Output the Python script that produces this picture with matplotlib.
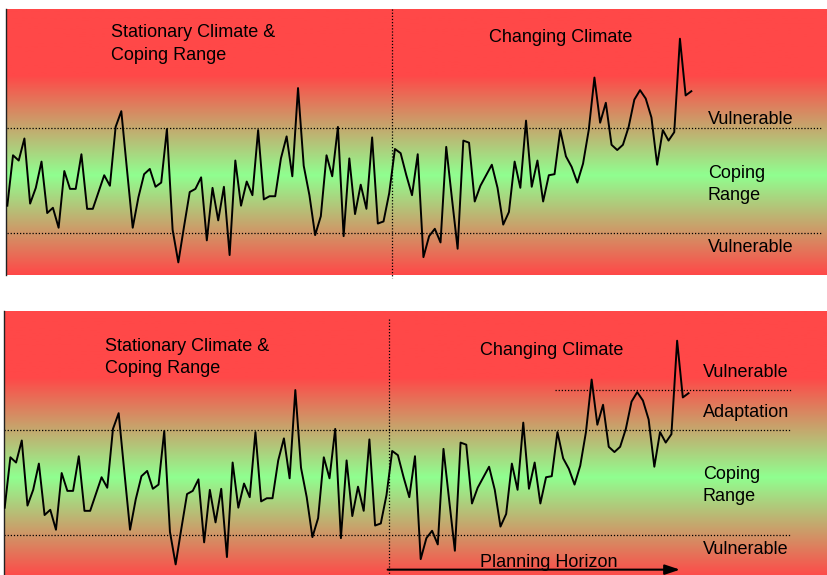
import numpy as np
import matplotlib
matplotlib.use("Agg")
import matplotlib.pyplot as plt

plt.rcParams["font.family"] = ["Liberation Sans", "DejaVu Sans"]

# climate variable (coping range 10..20)
values = [
    12.6, 17.4, 16.9, 19.0, 12.8, 14.3, 16.8, 11.9, 12.4, 10.5,
    15.9, 14.2, 14.2, 17.5, 12.3, 12.3, 13.9, 15.5, 14.5, 20.1,
    21.6, 16.0, 10.5, 13.4, 15.6, 16.1, 14.4, 14.8, 19.9, 10.3,
    7.2, 10.6, 13.9, 14.2, 15.3, 9.3, 14.3, 11.2, 14.4, 7.9,
    16.9, 12.6, 14.9, 13.6, 19.8, 13.2, 13.5, 13.5, 17.1, 19.2,
    15.4, 23.8, 16.4, 13.6, 9.8, 11.6, 17.4, 15.4, 20.1, 9.7,
    17.1, 11.8, 14.6, 12.3, 19.1, 10.9, 11.1, 13.8, 18.0, 17.6,
    15.5, 13.6, 17.5, 7.7, 9.7, 10.4, 9.1, 18.2, 13.3, 8.5,
    18.8, 18.6, 13.0, 14.5, 15.5, 16.5, 14.3, 10.8, 12.0, 16.8,
    14.3, 20.7, 14.4, 16.9, 13.0, 15.5, 15.6, 19.8, 17.3, 16.3,
    14.8, 16.6, 19.8, 24.8, 20.5, 22.4, 18.4, 17.9, 18.4, 20.1,
    22.7, 23.6, 22.8, 21.0, 16.5, 19.8, 18.8, 19.6, 28.5, 23.1,
    23.5,
]
lower_limit = 10.0
upper_limit = 20.0
adaptation_limit = 23.85
change_start = 67.4

red = np.array([255, 72, 72]) / 255
green = np.array([144, 255, 144]) / 255

x = np.arange(len(values))

fig = plt.figure(figsize=(8.27, 5.75), dpi=100)
ax_top = fig.add_axes([6 / 827, 300 / 575, 821 / 827, 266 / 575])
ax_bot = fig.add_axes([4 / 827, 0, 823 / 827, 264 / 575])


def background(ax, x0, x1, y0, y1):
    v = np.linspace(y1, y0, 400)
    t = np.clip(np.abs(v - 15.5) / 9.5, 0, 1)[:, None]
    img = green * (1 - t) + red * t
    ax.imshow(img[:, None, :], extent=[x0, x1, y0, y1], aspect="auto", zorder=0)
    ax.set_xlim(x0, x1)
    ax.set_ylim(y0, y1)
    ax.set_xticks([])
    ax.set_yticks([])
    for side in ["top", "right", "bottom"]:
        ax.spines[side].set_visible(False)
    ax.spines["left"].set_color("#222222")
    ax.spines["left"].set_linewidth(1.0)


dots = dict(color="black", lw=0.9, ls=(0, (1, 1.5)))
fs = 13
ls2 = 1.42

# top panel
background(ax_top, -0.23, 143.8, 6.0, 31.33)
ax_top.plot(x, values, color="black", lw=1.4, zorder=3)
for lim in [lower_limit, upper_limit]:
    ax_top.plot([0, 142.9], [lim, lim], zorder=2, **dots)
ax_top.plot([change_start, change_start], [31.33, 5.7], clip_on=False, zorder=2, **dots)
ax_top.text(18.2, 28.0, "Stationary Climate &\nCoping Range", fontsize=fs, va="center", linespacing=ls2)
ax_top.text(84.5, 28.6, "Changing Climate", fontsize=fs, va="center")
ax_top.text(122.9, 20.8, "Vulnerable", fontsize=fs, va="center")
ax_top.text(122.9, 14.6, "Coping\nRange", fontsize=fs, va="center", linespacing=ls2)
ax_top.text(122.9, 8.6, "Vulnerable", fontsize=fs, va="center")

# bottom panel
background(ax_bot, -0.12, 144.3, 6.19, 31.33)
ax_bot.plot(x, values, color="black", lw=1.4, zorder=3)
for lim in [lower_limit, upper_limit]:
    ax_bot.plot([-0.12, 138], [lim, lim], zorder=2, **dots)
ax_bot.plot([96.5, 138], [adaptation_limit, adaptation_limit], zorder=2, **dots)
ax_bot.plot([change_start, change_start], [30.6, 6.19], zorder=2, **dots)
ax_bot.text(17.6, 26.9, "Stationary Climate &\nCoping Range", fontsize=fs, va="center", linespacing=ls2)
ax_bot.text(83.4, 27.6, "Changing Climate", fontsize=fs, va="center")
ax_bot.text(122.5, 25.5, "Vulnerable", fontsize=fs, va="center")
ax_bot.text(122.5, 21.7, "Adaptation", fontsize=fs, va="center")
ax_bot.text(122.5, 14.7, "Coping\nRange", fontsize=fs, va="center", linespacing=ls2)
ax_bot.text(122.5, 8.6, "Vulnerable", fontsize=fs, va="center")
ax_bot.text(83.4, 7.4, "Planning Horizon", fontsize=fs, va="center")
ax_bot.annotate("", xy=(118.5, 6.7), xytext=(67.2, 6.7),
                arrowprops=dict(arrowstyle="-|>,head_length=0.9,head_width=0.3",
                                color="black", lw=1.5, shrinkA=0, shrinkB=0),
                zorder=4)

fig.savefig("out.png", dpi=100)
